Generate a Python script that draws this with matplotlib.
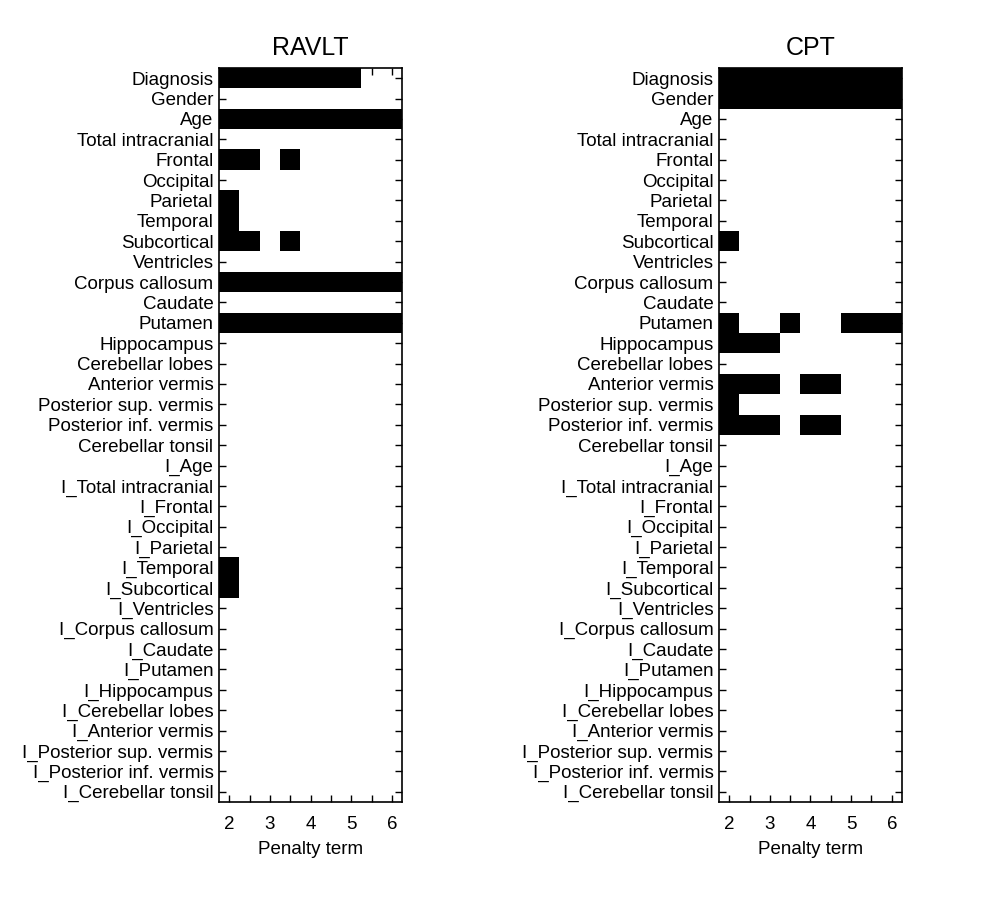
import numpy as np
import matplotlib
matplotlib.use("Agg")
import matplotlib.pyplot as plt
from matplotlib.colors import ListedColormap

plt.rcParams["font.family"] = ["Liberation Sans", "DejaVu Sans"]

base_vars = ["Diagnosis", "Gender", "Age", "Total intracranial", "Frontal", "Occipital",
             "Parietal", "Temporal", "Subcortical", "Ventricles", "Corpus callosum",
             "Caudate", "Putamen", "Hippocampus", "Cerebellar lobes", "Anterior vermis",
             "Posterior sup. vermis", "Posterior inf. vermis", "Cerebellar tonsil"]
inter_vars = ["I_Age", "I_Total intracranial", "I_Frontal", "I_Occipital", "I_Parietal",
              "I_Temporal", "I_Subcortical", "I_Ventricles", "I_Corpus callosum",
              "I_Caudate", "I_Putamen", "I_Hippocampus", "I_Cerebellar lobes",
              "I_Anterior vermis", "I_Posterior sup. vermis", "I_Posterior inf. vermis",
              "I_Cerebellar tonsil"]
variables = base_vars + inter_vars

penalty = [2.0, 2.5, 3.0, 3.5, 4.0, 4.5, 5.0, 5.5, 6.0]

# selected (1) / not selected (0) at each penalty term; unlisted rows are all zero
ravlt_sel = {
    "Diagnosis":       [1, 1, 1, 1, 1, 1, 1, 0, 0],
    "Age":             [1, 1, 1, 1, 1, 1, 1, 1, 1],
    "Frontal":         [1, 1, 0, 1, 0, 0, 0, 0, 0],
    "Parietal":        [1, 0, 0, 0, 0, 0, 0, 0, 0],
    "Temporal":        [1, 0, 0, 0, 0, 0, 0, 0, 0],
    "Subcortical":     [1, 1, 0, 1, 0, 0, 0, 0, 0],
    "Corpus callosum": [1, 1, 1, 1, 1, 1, 1, 1, 1],
    "Putamen":         [1, 1, 1, 1, 1, 1, 1, 1, 1],
    "I_Temporal":      [1, 0, 0, 0, 0, 0, 0, 0, 0],
    "I_Subcortical":   [1, 0, 0, 0, 0, 0, 0, 0, 0],
}
cpt_sel = {
    "Diagnosis":             [1, 1, 1, 1, 1, 1, 1, 1, 1],
    "Gender":                [1, 1, 1, 1, 1, 1, 1, 1, 1],
    "Subcortical":           [1, 0, 0, 0, 0, 0, 0, 0, 0],
    "Putamen":               [1, 0, 0, 1, 0, 0, 1, 1, 1],
    "Hippocampus":           [1, 1, 1, 0, 0, 0, 0, 0, 0],
    "Anterior vermis":       [1, 1, 1, 0, 1, 1, 0, 0, 0],
    "Posterior sup. vermis": [1, 0, 0, 0, 0, 0, 0, 0, 0],
    "Posterior inf. vermis": [1, 1, 1, 0, 1, 1, 0, 0, 0],
}


def to_matrix(sel):
    m = np.zeros((len(variables), len(penalty)))
    for name, flags in sel.items():
        m[variables.index(name)] = flags
    return m


def draw(ax, sel, title):
    p = np.array(penalty)
    step = p[1] - p[0]
    xedges = np.append(p - step / 2, p[-1] + step / 2)
    yedges = np.arange(len(variables) + 1) - 0.5
    ax.pcolormesh(xedges, yedges, to_matrix(sel), cmap=ListedColormap(["white", "black"]),
                  vmin=0, vmax=1, shading="flat")
    ax.set_xlim(xedges[0], xedges[-1])
    ax.set_ylim(yedges[-1], yedges[0])
    ax.set_yticks(np.arange(len(variables)))
    ax.set_yticklabels(variables, fontsize=13.5)
    ax.set_xticks(p)
    ax.set_xticklabels([f"{v:g}" if v == int(v) else "" for v in p], fontsize=13.5)
    ax.tick_params(direction="in", top=True, right=True, length=5, width=1)
    ax.tick_params(axis="y", pad=4)
    ax.tick_params(axis="x", pad=10)
    ax.set_xlabel("Penalty term", fontsize=13.5, labelpad=6)
    ax.set_title(title, fontsize=18, pad=9)
    for s in ax.spines.values():
        s.set_linewidth(1.2)
        s.set_zorder(5)


fig = plt.figure(figsize=(10, 9.01), dpi=100)
ax1 = fig.add_axes([0.219, 0.1099, 0.183, 0.8147])
ax2 = fig.add_axes([0.719, 0.1099, 0.183, 0.8147])
draw(ax1, ravlt_sel, "RAVLT")
draw(ax2, cpt_sel, "CPT")
fig.savefig("out.png", dpi=100)
